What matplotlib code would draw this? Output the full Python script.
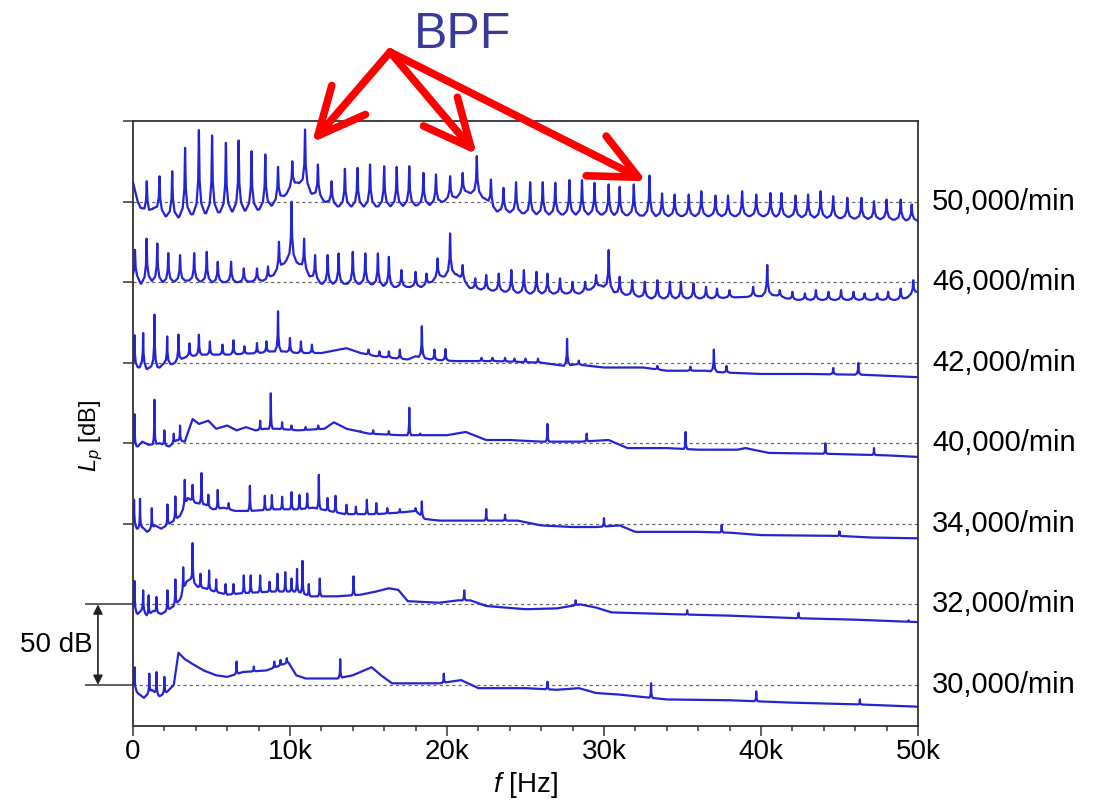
import numpy as np
import matplotlib.pyplot as plt
from matplotlib.transforms import blended_transform_factory

plt.rcParams['font.family'] = ['Liberation Sans', 'DejaVu Sans']
plt.rcParams['mathtext.fontset'] = 'custom'
plt.rcParams['mathtext.it'] = 'Liberation Sans:italic'
plt.rcParams['mathtext.rm'] = 'Liberation Sans'

# rotor speeds and their vertical offset in dB (50 dB per step)
speeds = ['30,000/min', '32,000/min', '34,000/min', '40,000/min',
          '42,000/min', '46,000/min', '50,000/min']
offsets = [0, 50, 100, 150, 200, 250, 300]

# --- broadband floor of each spectrum (f in kHz, level in dB) ---
bf30 = [0, 0.3, 0.7, 1.2, 1.7, 2.2, 2.6, 2.9, 3.3, 3.8, 4.5, 5.3, 6, 7, 8.5, 9.9, 10.4, 11, 13, 14,
        15.2, 15.8, 16.5, 19.5, 20.9, 22, 25, 27, 28.4, 29.5, 31, 34, 38, 42, 46, 50]
bl30 = [0, -5, -8, -3, -7, -4, 0, 20, 16, 13, 9, 6, 5, 8, 9, 14, 6, 4, 4, 6,
        11, 6, 1, 1, 3, -2, -2, -3, -2, -5, -6, -9, -9.5, -11, -12, -13.5]

bf32 = [0, 0.3, 0.6, 0.9, 1.3, 1.8, 2.3, 2.6, 3.0, 3.4, 3.7, 4.1, 4.6, 5.2, 6.0, 7, 9, 10.5, 11.3,
        13, 14.5, 15.5, 16.3, 16.9, 17.5, 19.5, 20.7, 21.5, 22.5, 25, 27, 28.5, 29.5, 30.5, 34,
        38, 42, 46, 50]
bl32 = [-2, -6, -3, -7, -4, -6, -3, -1, 3, 14, 16, 11, 10, 8, 6, 7, 8, 8, 5,
        5, 6, 8, 10, 9, 2, 1, 2.5, 2.5, -1, -3, -2.5, 0, -2, -5, -6,
        -7, -8.5, -9.5, -11]

bf34 = [0, 0.25, 0.6, 0.9, 1.4, 1.8, 2.3, 2.6, 3.0, 3.5, 4.0, 4.6, 5.1, 5.8, 6.5, 7.5, 9, 10.5,
        11.5, 12.5, 13.5, 15.5, 17, 18.0, 18.6, 19.5, 23, 24.5, 26, 28, 29.5, 31.0, 32, 36, 38,
        40, 45, 47, 50]
bl34 = [2, -3, -2, -5, -1, -3, 0, 2, 5, 16, 13, 12, 9, 10, 8, 8, 9, 9,
        10, 8, 6, 6, 7, 8, 3, 2, 2, 2, -1, -2, -2, -1, -5, -5, -5.5,
        -7, -7.5, -8.5, -9]

bf40 = [0, 0.3, 0.6, 1.0, 1.7, 2.3, 2.8, 3.3, 3.8, 4.2, 4.8, 5.3, 6.0, 6.6, 7.2, 7.8, 8.4, 9.2,
        10.5, 12.2, 12.8, 13.6, 15, 17, 18.8, 20, 21.2, 22.5, 24, 26, 27, 28.5, 30.3, 31.5, 34,
        36, 38.5, 39, 40.5, 44, 48, 50]
bl40 = [-1, -2, 1, -1, 0, -2, 2, 1, 15, 12, 14, 9, 11, 8, 10, 8, 9, 9,
        8, 9, 13, 9, 6, 5, 5, 5, 7, 2, 2, 1, 1, 1, 2, -3, -3,
        -4, -4, -3, -6, -6.5, -7.5, -8.5]

bf42 = [0, 0.4, 0.6, 0.9, 1.2, 1.7, 2.0, 2.5, 3.0, 3.5, 4.5, 6, 8, 8.8, 9.6, 10.5, 12, 13.6,
        14.5, 15.5, 17.5, 18.0, 19, 20.5, 23, 26, 27.5, 28.2, 30, 32.5, 34, 36.5, 37.5, 40, 43,
        46.5, 50]
bl42 = [-2, -3, -1, -4, -2, -3, 0, -1, 2, 4, 5, 5, 6, 7, 7, 6, 6, 9,
        6, 4, 2, 4, 2, 1, 1, 0, -2, -1, -3, -3, -5, -5, -6, -7, -7,
        -7.5, -9]

bf46 = [0, 0.3, 0.5, 1.0, 2.0, 3.5, 5, 7, 8.5, 9.3, 9.8, 10.5, 11.2, 12, 15, 16.5, 18.5, 19.5,
        20.6, 21.5, 25, 28.5, 29.8, 30.8, 33, 37, 39.5, 40.8, 42, 46, 49, 50]
bl46 = [2, 2, -1, 1, 0, 1, 0, 0, 1, 7, 14, 12, 4, -1, -1, -3, -3, 3,
        5, -4, -7, -7, -2, -7, -10, -10, -9, -8, -11, -11, -11, -6]

bf50 = [0, 0.3, 0.6, 1.0, 1.3, 2.0, 2.8, 3.6, 5, 6.5, 8, 9.0, 9.8, 10.5, 11.5, 12.2, 13, 16, 19,
        20.5, 21.3, 22.4, 23, 26, 30, 33.5, 36, 40, 44, 48, 50]
bl50 = [12, 0, -6, -8, -4, -9, -10, -8, -7, -6, -5, -2, 5, 12, 4, 0, -3, -3, -2,
        2, 6, 2, -6, -8, -8, -9, -9, -9, -10, -11, -12]

# --- tonal peaks (f in kHz, peak level in dB) ---
pf30 = [0.1, 1.04, 1.5, 2.0, 6.6, 7.7, 9.0, 9.4, 9.8, 13.2, 19.8, 26.4, 33.0, 39.7, 46.3]
pl30 = [11, 7, 8, 5, 14.5, 11.4, 14.5, 15.5, 16.6, 16, 7, 2, 1, -4, -9]

pf32 = [0.1, 0.65, 1.0, 1.5, 2.2, 2.7, 3.2, 3.8, 4.3, 4.85, 5.3, 5.9, 6.4, 7.06, 7.5, 8.1, 8.7,
        9.2, 9.7, 10.1, 10.45, 10.8, 11.2, 11.9, 14.05, 21.1, 28.2, 35.3, 42.4, 49.4]
pl32 = [14.5, 8.7, 5.6, 4.6, 8.7, 15.5, 23, 38, 19, 21, 15.5, 12.6, 12.6, 18, 18, 18, 14,
        19, 20, 16, 22, 27, 12.6, 16, 17.4, 8.7, 2.5, -3.7, -5.3, -9.9]

pf34 = [0.07, 0.45, 1.2, 2.2, 2.7, 3.3, 3.8, 4.36, 4.8, 5.4, 6.1, 7.45, 8.4, 8.85, 9.5, 10.1,
        10.6, 11.1, 11.84, 12.4, 12.9, 13.6, 14.2, 14.9, 15.5, 16.2, 17.0, 18.0, 18.4, 22.5, 23.7,
        30.0, 37.5, 45.0]
pl34 = [15, 15.5, 9.7, 12, 17, 27.3, 24.2, 31.5, 18, 21, 12.8, 23.6, 17.4, 17.8, 16.8, 19.7,
        17.8, 18.8, 30.4, 16, 17.4, 11.8, 10.6, 14.9, 12.8, 9.7, 9.1, 9.7, 13.9, 9.1, 5.6,
        3.5, -0.6, -4.7]

pf40 = [0.1, 1.37, 2.0, 2.6, 3.0, 8.1, 8.78, 9.5, 10.1, 11.0, 11.8, 14.5, 15.3, 16.3, 17.6,
        18.3, 26.4, 28.9, 35.2, 44.1, 47.2]
pl40 = [18, 27, 8, 6, 11, 14, 31, 13, 11, 10, 11, 7.5, 8, 7.5, 22, 6, 12, 6, 7, 0, -3]

pf42 = [0.1, 0.65, 1.37, 2.18, 2.9, 3.6, 4.2, 4.9, 5.7, 6.4, 7.1, 7.9, 8.5, 9.24, 10.0, 10.7,
        11.4, 15.0, 15.7, 16.3, 17.0, 18.4, 19.2, 19.9, 22.2, 22.9, 23.7, 24.3, 25.0, 25.8,
        27.65, 28.4, 33.4, 35.5, 37.0, 37.8, 44.6, 46.2]
pl42 = [17, 18.4, 29.8, 16.3, 17.4, 12, 17.4, 13.2, 11.2, 13.9, 10.1, 12.2, 13.2, 31.9, 15.3, 13.2,
        11.2, 8.1, 7, 7, 8.1, 22.6, 8.1, 8.5, 3, 3, 3, 2.5, 2.5, 2.5,
        14.7, 1.3, -2, -2.5, 8.1, -2, -3.3, -0.2]

pf46 = [0.13, 0.87, 1.55, 2.25, 3.0, 3.9, 4.7, 5.4, 6.25, 7.06, 7.9, 8.6, 9.3, 10.1, 10.9, 11.6,
        12.4, 13.1, 14.0, 14.8, 15.6, 16.3, 17.1, 18.0, 18.7, 19.4, 20.2, 21.0, 21.8, 22.5, 23.3,
        24.1, 24.9, 25.7, 26.4, 27.2, 28.0, 28.8, 29.5, 30.3, 31.0, 31.8, 32.6, 33.4, 34.2, 34.9,
        35.7, 36.5, 37.2, 38.0, 39.5, 40.4, 41.2, 42.0, 42.8, 43.5, 44.3, 45.1, 45.9, 46.6, 47.4,
        48.1, 48.9, 49.7]
pl46 = [20, 27, 24, 18, 16.8, 18, 18.8, 12.6, 12.6, 8.5, 8.5, 9.7, 25, 49.9, 27, 16.8,
        16.8, 17.8, 18.8, 17.8, 17.8, 15.7, 7.5, 6.4, 5.3, 14.7, 30.2, 10.6, 2.3, 4.4, 5.3,
        7.5, 7.5, 6.4, 5.3, 2.3, 0.2, 0.2, 4.4, 19.9, 3.3, 1.2, 0.2, 1.2, 0.2, 0.2,
        -0.8, -2.9, -4, -5, -2.9, 10.6, -5, -6, -7, -5, -6, -5, -6, -7, -7,
        -6, -4, 1.2]

pf50 = [0.88, 1.69, 2.5, 3.32, 4.2, 5.04, 5.92, 6.73, 7.55, 8.43, 9.24, 10.15, 10.96, 11.78,
        12.65, 13.5, 14.3, 15.1, 16.0, 16.8, 17.6, 18.5, 19.3, 20.2, 21.0, 21.9, 22.8, 23.6, 24.4,
        25.3, 26.1, 26.9, 27.8, 28.6, 29.4, 30.3, 31.0, 31.9, 32.9, 33.7, 34.5, 35.4, 36.2, 37.1,
        37.9, 38.8, 39.7, 40.6, 41.3, 42.2, 43.0, 43.8, 44.6, 45.5, 46.4, 47.2, 48.0, 48.9, 49.6]
pl50 = [12.6, 15.7, 18.8, 33.3, 44.3, 41, 36.4, 37.9, 31.2, 29.2, 21.5, 25, 44.7, 23,
        12.6, 20.3, 20.9, 23, 21.9, 21.5, 21.9, 17.8, 16.8, 15.7, 17.8, 28.2, 13.7, 8.5, 12,
        12, 12, 11.6, 13.3, 13.3, 11.6, 10.6, 9.1, 10.6, 16.1, 5, 4.3, 4.3, 6.4, 3.7,
        3.7, 6.4, 4.3, 5.3, 5.3, 3.7, 4.3, 6.4, 3.3, 2.3, 2.3, 0.2, 1.2, 1.2, -1.9]

floors = [(bf30, bl30), (bf32, bl32), (bf34, bl34), (bf40, bl40),
          (bf42, bl42), (bf46, bl46), (bf50, bl50)]
tones = [(pf30, pl30), (pf32, pl32), (pf34, pl34), (pf40, pl40),
         (pf42, pl42), (pf46, pl46), (pf50, pl50)]
peak_width = [0.12, 0.12, 0.12, 0.12, 0.2, 0.33, 0.38]

# BPF arrow tips (kHz, dB on the plot scale)
bpf_tip_f = [11.4, 21.9, 32.7]
bpf_tip_db = [336.6, 329.2, 312.6]

line_color = '#2424d2'


def spectrum(base_f, base_db, peak_f, peak_db, w):
    base_f = np.asarray(base_f, float)
    base_db = np.asarray(base_db, float)
    keep = np.ones(len(base_f), bool)
    for f in peak_f:
        keep &= np.abs(base_f - f) > w
    fs = list(base_f[keep])
    ds = list(base_db[keep])
    # cusp shaped peak outline
    shape = [(-1, 0), (-0.4, 0.12), (-0.12, 0.4), (0, 1), (0.12, 0.4), (0.4, 0.12), (1, 0)]
    for f, top in zip(peak_f, peak_db):
        for dx, frac in shape:
            x = f + dx * w
            b = np.interp(x, base_f, base_db)
            fs.append(x)
            ds.append(b + frac * (top - b))
    order = np.argsort(fs, kind='stable')
    return np.array(fs)[order], np.array(ds)[order]


fig = plt.figure(figsize=(10.97, 8.05), dpi=100)
ax = fig.add_axes([0.1212, 0.0981, 0.7156, 0.7516])
trans = blended_transform_factory(ax.transAxes, ax.transData)

for (bf, bl), (pf, pl), w, off, lab in zip(floors, tones, peak_width, offsets, speeds):
    ax.axhline(off, color='#666666', ls=(0, (2.5, 2.5)), lw=0.9, zorder=1)
    f, d = spectrum(bf, bl, pf, pl, w)
    ax.plot(f, d + off, color=line_color, lw=1.6, zorder=2)
    ax.text(1.018, off, lab, transform=trans, fontsize=21, ha='left', va='center')

ax.set_xlim(0, 50)
ax.set_ylim(-25.5, 350)

ax.set_xticks([0, 10, 20, 30, 40, 50])
ax.set_xticklabels(['0', '10k', '20k', '30k', '40k', '50k'])
ax.set_xticks(np.arange(0, 51, 2), minor=True)
ax.tick_params(axis='x', which='major', direction='out', length=7, width=1.1,
               labelsize=20, pad=2, color='#333333')
ax.tick_params(axis='x', which='minor', direction='out', length=3.5, width=1.1, color='#333333')

ax.set_yticks([0, 50])
ax.set_yticklabels([])
ax.set_yticks([100, 150, 200, 250, 300, 350], minor=True)
ax.tick_params(axis='y', which='major', direction='out', length=34.5, width=1.1, color='#333333')
ax.tick_params(axis='y', which='minor', direction='out', length=7, width=1.1, color='#333333')

for s in ax.spines.values():
    s.set_linewidth(1.3)
    s.set_color('#333333')

ax.set_xlabel('$f$ [Hz]', fontsize=20)
ax.xaxis.set_label_coords(0.5, -0.072)
ax.set_ylabel('$L_p$ [dB]', fontsize=17)
ax.yaxis.set_label_coords(-0.036, 0.48)

# 50 dB scale marker
ax.annotate('', xy=(-0.0446, 0), xytext=(-0.0446, 50), xycoords=trans, textcoords=trans,
            arrowprops=dict(arrowstyle='<|-|>', color='#222222', lw=1.2, mutation_scale=14,
                            shrinkA=0, shrinkB=0), annotation_clip=False)
ax.text(-0.097, 25, '50 dB', transform=trans, fontsize=20, ha='center', va='center')

# BPF label and arrows
fig.text(463 / 1097, 1 - 35 / 805, 'BPF', fontsize=36, color='#3a3a9e', ha='center', va='center')
for tf, td in zip(bpf_tip_f, bpf_tip_db):
    ax.annotate('', xy=(tf, td), xycoords='data', xytext=(390 / 1097, 1 - 52 / 805),
                textcoords='figure fraction',
                arrowprops=dict(arrowstyle='->,head_length=1.7,head_width=0.8', color='red',
                                lw=5.5, mutation_scale=20, shrinkA=0, shrinkB=0),
                annotation_clip=False)

fig.savefig('out.png', dpi=100)
